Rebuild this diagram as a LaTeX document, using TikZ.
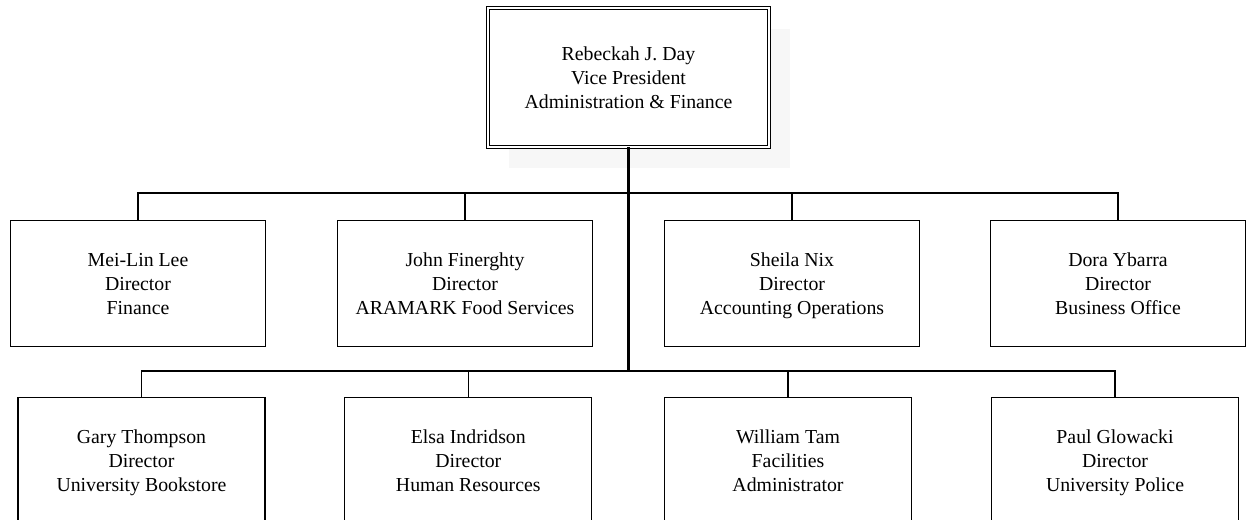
\documentclass[tikz,border=0pt]{standalone}
\usepackage{fontspec}
\setmainfont{Liberation Serif}
\usetikzlibrary{shadows}
\tikzset{
  post/.style={draw, line width=0.9pt, align=center, inner sep=0pt,
    outer sep=0pt, minimum width=191.25pt, minimum height=94.5pt,
    font=\fontsize{14.85pt}{17.8pt}\selectfont},
  lowpost/.style={post, minimum width=185.25pt},
  headpost/.style={post, fill=white, double, double distance=1.2pt,
    minimum width=210.75pt, minimum height=104.25pt,
    drop shadow={shadow xshift=15.75pt, shadow yshift=-15.75pt,
      fill=black!3, opacity=1}},
  link/.style={line width=0.9pt},
  trunk/.style={line width=1.6pt}
}
\newcommand*{\staff}[3]{\rule{0pt}{15.5pt}#1\\#2\strut\\#3\strut}

\begin{document}
\begin{tikzpicture}[x=0.75pt,y=-0.75pt]
\useasboundingbox (0,0) rectangle (1248,520);
\clip (0,0) rectangle (1248,520);
\coordinate (VP) at (628.5,77.5);
\coordinate (A1) at (138,283.5);
\coordinate (A2) at (465,283.5);
\coordinate (A3) at (792,283.5);
\coordinate (A4) at (1118,283.5);
\coordinate (C1) at (141.5,460.5);
\coordinate (C2) at (468.3,460.5);
\coordinate (C3) at (788,460.5);
\coordinate (C4) at (1115,460.5);
\coordinate (B1) at (628.5,193);
\coordinate (B2) at (628.5,371);

\node[headpost] (vp) at (VP)
  {\staff{Rebeckah J. Day}{Vice President}{Administration \& Finance}};

\node[post] (mll) at (A1) {\staff{Mei-Lin Lee}{Director}{Finance}};
\node[post] (jf) at (A2)
  {\staff{John Finerghty}{Director}{ARAMARK Food Services}};
\node[post] (sn) at (A3)
  {\staff{Sheila Nix}{Director}{Accounting Operations}};
\node[post] (dy) at (A4) {\staff{Dora Ybarra}{Director}{Business Office}};

\node[lowpost] (gt) at (C1)
  {\staff{Gary Thompson}{Director}{University Bookstore}};
\node[lowpost] (ei) at (C2)
  {\staff{Elsa Indridson}{Director}{Human Resources}};
\node[lowpost] (wt) at (C3)
  {\staff{William Tam}{Facilities}{Administrator}};
\node[lowpost] (pg) at (C4)
  {\staff{Paul Glowacki}{Director}{University Police}};

\draw[link] (mll.north) |- (B1) -| (dy.north);
\draw[link] (jf.north) |- (B1) -| (sn.north);
\draw[link] (gt.north) |- (B2) -| (pg.north);
\draw[link] (ei.north) |- (B2) -| (wt.north);
\draw[trunk] (vp.south) -- (B2);
\end{tikzpicture}
\end{document}
